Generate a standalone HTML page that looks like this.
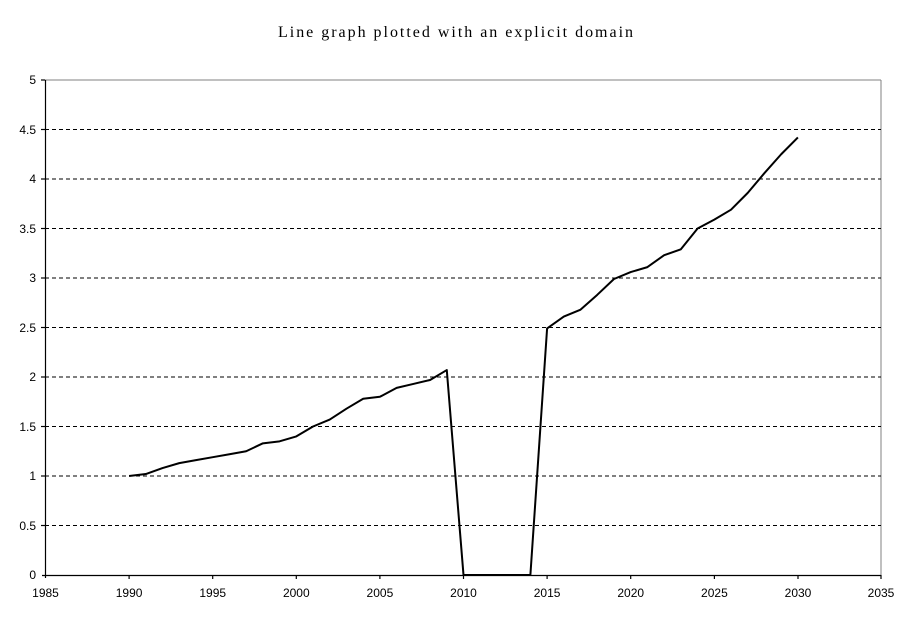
<!DOCTYPE html>
<html><head><style>
html,body{margin:0;padding:0;background:#fff;}
svg{display:block;font-family:"Liberation Sans",sans-serif;}
</style></head><body>
<svg width="913" height="621" viewBox="0 0 913 621" xmlns="http://www.w3.org/2000/svg">
<rect width="913" height="621" fill="#fff"/>
<text x="278" y="37" font-family="Liberation Serif,serif" font-size="16" textLength="355" lengthAdjust="spacing">Line graph plotted with an explicit domain</text>
<line x1="45" y1="80" x2="881" y2="80" stroke="#808080"/>
<line x1="881" y1="80" x2="881" y2="575" stroke="#808080"/>
<g stroke="#000" stroke-dasharray="4,3">
<line x1="45" y1="129.5" x2="881" y2="129.5"/>
<line x1="45" y1="179" x2="881" y2="179"/>
<line x1="45" y1="228.5" x2="881" y2="228.5"/>
<line x1="45" y1="278" x2="881" y2="278"/>
<line x1="45" y1="327.5" x2="881" y2="327.5"/>
<line x1="45" y1="377" x2="881" y2="377"/>
<line x1="45" y1="426.5" x2="881" y2="426.5"/>
<line x1="45" y1="476" x2="881" y2="476"/>
<line x1="45" y1="525.5" x2="881" y2="525.5"/>
</g>
<g stroke="#000" stroke-width="1.2">
<line x1="45.5" y1="80" x2="45.5" y2="578"/>
<line x1="42" y1="575.5" x2="881" y2="575.5"/>
<line x1="41" y1="80" x2="45" y2="80"/><line x1="41" y1="129.5" x2="45" y2="129.5"/><line x1="41" y1="179" x2="45" y2="179"/><line x1="41" y1="228.5" x2="45" y2="228.5"/><line x1="41" y1="278" x2="45" y2="278"/><line x1="41" y1="327.5" x2="45" y2="327.5"/><line x1="41" y1="377" x2="45" y2="377"/><line x1="41" y1="426.5" x2="45" y2="426.5"/><line x1="41" y1="476" x2="45" y2="476"/><line x1="41" y1="525.5" x2="45" y2="525.5"/>
<line x1="129.1" y1="575" x2="129.1" y2="579"/><line x1="212.7" y1="575" x2="212.7" y2="579"/><line x1="296.3" y1="575" x2="296.3" y2="579"/><line x1="379.9" y1="575" x2="379.9" y2="579"/><line x1="463.5" y1="575" x2="463.5" y2="579"/><line x1="547.1" y1="575" x2="547.1" y2="579"/><line x1="630.7" y1="575" x2="630.7" y2="579"/><line x1="714.4" y1="575" x2="714.4" y2="579"/><line x1="798" y1="575" x2="798" y2="579"/><line x1="881" y1="575" x2="881" y2="579"/>
</g>
<g font-size="12" text-anchor="end">
<text x="36" y="84">5</text><text x="36" y="134">4.5</text><text x="36" y="183">4</text><text x="36" y="233">3.5</text><text x="36" y="282">3</text><text x="36" y="332">2.5</text><text x="36" y="381">2</text><text x="36" y="431">1.5</text><text x="36" y="480">1</text><text x="36" y="530">0.5</text><text x="36" y="579">0</text>
</g>
<g font-size="12" text-anchor="middle">
<text x="45.5" y="597">1985</text><text x="129.1" y="597">1990</text><text x="212.7" y="597">1995</text><text x="296.3" y="597">2000</text><text x="379.9" y="597">2005</text><text x="463.5" y="597">2010</text><text x="547.1" y="597">2015</text><text x="630.7" y="597">2020</text><text x="714.4" y="597">2025</text><text x="798" y="597">2030</text><text x="881" y="597">2035</text>
</g>
<g transform="translate(45.5,575) scale(16.72,-99) translate(-1985,0)">
<polyline fill="none" stroke="#000" stroke-width="2" vector-effect="non-scaling-stroke" stroke-linejoin="round" points="1990,1 1991,1.02 1992,1.08 1993,1.13 1994,1.16 1995,1.19 1996,1.22 1997,1.25 1998,1.33 1999,1.35 2000,1.4 2001,1.5 2002,1.57 2003,1.68 2004,1.78 2005,1.8 2006,1.89 2007,1.93 2008,1.97 2009,2.07 2010,0 2011,0 2012,0 2013,0 2014,0 2015,2.49 2016,2.61 2017,2.68 2018,2.83 2019,2.99 2020,3.06 2021,3.11 2022,3.23 2023,3.29 2024,3.5 2025,3.59 2026,3.69 2027,3.86 2028,4.06 2029,4.25 2030,4.42"/>
</g>
</svg>
</body></html>
